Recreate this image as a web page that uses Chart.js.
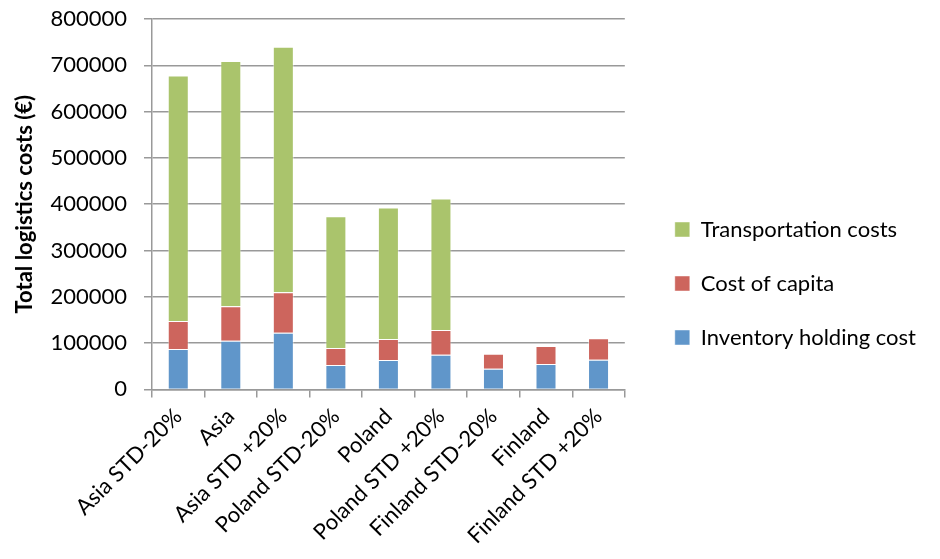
<!DOCTYPE html>
<html>
<head>
<meta charset="utf-8">
<script src="https://cdn.jsdelivr.net/npm/chart.js@4/dist/chart.umd.min.js"></script>
<style>
  html, body { margin: 0; padding: 0; background: #fff; }
  #wrap { width: 940px; height: 559px; }
</style>
</head>
<body>
<div id="wrap"><canvas id="myChart" width="940" height="559"></canvas></div>
<script>
const scenarios = ['Asia STD-20%', 'Asia', 'Asia STD +20%', 'Poland STD-20%', 'Poland',
  'Poland STD +20%', 'Finland STD-20%', 'Finland', 'Finland STD +20%'];
const inventoryHolding = [87000, 105300, 122600, 52500, 63400, 75000, 44700, 54700, 64200];
const costOfCapita = [60600, 74200, 87100, 36800, 45400, 53200, 32500, 38900, 46100];
const transportation = [530600, 529700, 530400, 284700, 284200, 284100, 0, 0, 0];
const yTicks = [0, 100000, 200000, 300000, 400000, 500000, 600000, 700000, 800000];

const fontFamily = 'Lato, "Open Sans", sans-serif';
const axisGray = '#999999';
const barEdge = 'rgba(255,255,255,0.45)';

Chart.defaults.font.family = fontFamily;
Chart.defaults.color = '#000';

const ctx = document.getElementById('myChart').getContext('2d');
const chart = new Chart(ctx, {
  type: 'bar',
  data: {
    labels: scenarios,
    datasets: [{
      label: 'Inventory holding cost',
      data: inventoryHolding,
      backgroundColor: '#6096CA',
      borderColor: barEdge,
      borderWidth: 1,
    }, {
      label: 'Cost of capita',
      data: costOfCapita,
      backgroundColor: '#CD655D',
      borderColor: barEdge,
      borderWidth: 1,
    }, {
      label: 'Transportation costs',
      data: transportation,
      backgroundColor: '#AAC46C',
      borderColor: barEdge,
      borderWidth: 1,
    }],
  },
  options: {
    responsive: false,
    animation: false,
    layout: { padding: { left: 4, right: 14, top: 0, bottom: 4 } },
    datasets: {
      bar: { categoryPercentage: 1, barPercentage: 0.4 },
    },
    scales: {
      x: {
        stacked: true,
        // rotated labels fit on their own, don't let them widen the left margin
        afterFit: (scale) => { scale.paddingLeft = 0; },
        grid: {
          offset: true,
          drawOnChartArea: false,
          drawTicks: true,
          tickLength: 8,
          color: axisGray,
          lineWidth: 1.5,
        },
        border: { color: axisGray, width: 1.5 },
        ticks: {
          minRotation: 45,
          maxRotation: 45,
          autoSkip: false,
          padding: 6,
          font: { size: 22 },
          color: '#000',
        },
      },
      y: {
        stacked: true,
        min: 0,
        max: 800000,
        afterBuildTicks: (axis) => {
          axis.ticks = yTicks.map((v) => ({ value: v }));
        },
        // fixed axis width, and keep the top gridline close to the canvas edge
        afterFit: (scale) => {
          scale.width = 148;
          scale.paddingTop = 19;
        },
        grid: {
          color: axisGray,
          lineWidth: 1.5,
          drawTicks: true,
          tickLength: 8,
        },
        border: { color: axisGray, width: 1.5 },
        ticks: {
          padding: 17,
          font: { size: 22 },
          color: '#000',
          callback: (v) => String(v),
        },
        title: {
          display: true,
          text: 'Total logistics costs (€)',
          font: { size: 22, weight: 'bold' },
          color: '#000',
          padding: { top: 8, bottom: 2 },
        },
      },
      // empty spacer between the plot and the legend
      gap: {
        type: 'linear',
        position: 'right',
        display: true,
        grid: { display: false },
        border: { display: false },
        ticks: { display: false },
        afterFit: (scale) => { scale.width = 18; },
      },
    },
    plugins: {
      tooltip: { enabled: false },
      legend: {
        position: 'right',
        reverse: true,
        align: 'center',
        maxWidth: 400,
        title: { display: true, text: ' ', font: { size: 10, lineHeight: 1.2 }, padding: 0 },
        labels: {
          boxWidth: 15,
          boxHeight: 15,
          padding: 32,
          font: { size: 22 },
          color: '#000',
        },
      },
    },
  },
});
</script>
</body>
</html>
